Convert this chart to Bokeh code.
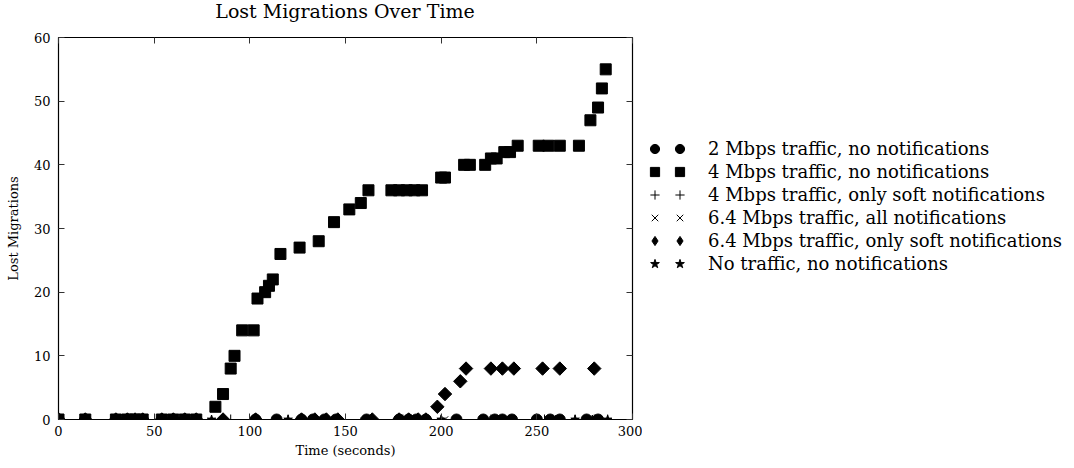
from bokeh.plotting import figure
from bokeh.layouts import row, column
from bokeh.models import Legend, LegendItem, LinearAxis, Range1d, FixedTicker, Div
from bokeh.embed import file_html
from bokeh.resources import INLINE
import numpy as np

FONT = "DejaVu Serif"

# ---- data (time in seconds, lost migrations) ----
title_text = "Lost Migrations Over Time"
labels = [
    "2 Mbps traffic, no notifications",
    "4 Mbps traffic, no notifications",
    "4 Mbps traffic, only soft notifications",
    "6.4 Mbps traffic, all notifications",
    "6.4 Mbps traffic, only soft notifications",
    "No traffic, no notifications",
]

mbps2_none_t = [0, 14, 30, 36, 40, 44, 54, 60, 66, 72, 103, 114, 127, 133, 139, 145,
                161, 178, 183, 187, 192, 208, 222, 228, 232, 237, 250, 257, 262, 276, 282]
mbps2_none_v = [0] * len(mbps2_none_t)

mbps4_none_t = [0, 14, 30, 36, 40, 44, 54, 60, 66, 72,
                82, 86, 90, 92, 96, 102, 104, 108, 110, 112, 116, 126, 136, 144, 152, 158, 162,
                174, 178, 182, 186, 190, 200, 202, 212, 215, 223, 226, 229, 233, 236, 240,
                251, 256, 262, 272, 278, 282, 284, 286]
mbps4_none_v = [0, 0, 0, 0, 0, 0, 0, 0, 0, 0,
                2, 4, 8, 10, 14, 14, 19, 20, 21, 22, 26, 27, 28, 31, 33, 34, 36,
                36, 36, 36, 36, 36, 38, 38, 40, 40, 40, 41, 41, 42, 42, 43,
                43, 43, 43, 43, 47, 49, 52, 55]

mbps4_soft_t = [30, 60, 90, 120, 150, 180, 200, 226, 254, 270, 280, 287]
mbps4_soft_v = [0] * len(mbps4_soft_t)

mbps64_all_t = [202, 227, 256]
mbps64_all_v = [0] * len(mbps64_all_t)

mbps64_soft_t = [0, 14, 30, 36, 40, 44, 54, 60, 66, 72, 86, 103, 127, 134, 140, 146,
                 164, 178, 183, 188, 192,
                 198, 202, 210, 213, 226, 232, 238, 253, 262, 280]
mbps64_soft_v = [0] * 21 + [2, 4, 6, 8, 8, 8, 8, 8, 8, 8]

none_none_t = [0, 40, 80, 120, 160, 200, 230, 260, 270, 279, 287]
none_none_v = [0] * len(none_none_t)

x_ticks = [0, 50, 100, 150, 200, 250, 300]
y_ticks = [0, 10, 20, 30, 40, 50, 60]

series = [
    (mbps2_none_t, mbps2_none_v),
    (mbps4_none_t, mbps4_none_v),
    (mbps4_soft_t, mbps4_soft_v),
    (mbps64_all_t, mbps64_all_v),
    (mbps64_soft_t, mbps64_soft_v),
    (none_none_t, none_none_v),
]

# ---- title (centred over the plot frame) ----
title = Div(text=title_text, width=690, height=22, margin=0,
            styles={"font-family": FONT, "font-size": "19px", "line-height": "22px",
                    "text-align": "center", "color": "black", "width": "690px"})

p = figure(frame_width=574, frame_height=382,
           x_range=Range1d(0, 300), y_range=Range1d(0, 60),
           output_backend="svg", toolbar_location=None,
           min_border_left=58, min_border_top=15, min_border_bottom=10, min_border_right=10)
p.background_fill_color = "white"
p.border_fill_color = "white"
p.outline_line_color = "black"
p.outline_line_width = 1.2
p.grid.visible = False

for ax in (p.xaxis[0], p.yaxis[0]):
    ax.major_label_text_font = FONT
    ax.major_label_text_font_size = "13px"
    ax.major_label_text_color = "black"
    ax.axis_label_text_font = FONT
    ax.axis_label_text_font_size = "13px"
    ax.axis_label_text_font_style = "normal"
    ax.axis_label_text_color = "black"
    ax.major_tick_in = 6
    ax.major_tick_out = 0
    ax.minor_tick_line_color = None
    ax.axis_line_color = None
    ax.major_tick_line_color = "#333333"

p.xaxis[0].ticker = FixedTicker(ticks=x_ticks)
p.yaxis[0].ticker = FixedTicker(ticks=y_ticks)
p.xaxis[0].axis_label = "Time (seconds)"
p.yaxis[0].axis_label = "Lost Migrations"
p.xaxis[0].major_label_standoff = 6
p.yaxis[0].major_label_standoff = 8
p.xaxis[0].axis_label_standoff = 4
p.yaxis[0].axis_label_standoff = 10

top_ax = LinearAxis(ticker=FixedTicker(ticks=x_ticks),
                    major_label_overrides={t: "" for t in x_ticks},
                    major_tick_in=6, major_tick_out=0, minor_tick_line_color=None,
                    axis_line_color=None, major_label_standoff=0,
                    major_tick_line_color="#333333")
right_ax = LinearAxis(ticker=FixedTicker(ticks=y_ticks),
                      major_label_overrides={t: "" for t in y_ticks},
                      major_tick_in=6, major_tick_out=0, minor_tick_line_color=None,
                      axis_line_color=None, major_label_standoff=0,
                      major_tick_line_color="#333333")
p.add_layout(top_ax, "above")
p.add_layout(right_ax, "right")

styles = [
    dict(marker="circle", size=11, fill_color="black", line_color="black"),
    dict(marker="square", size=11, fill_color="black", line_color="black"),
    dict(marker="cross", size=10, line_color="black", line_width=1),
    dict(marker="x", size=9, line_color="black", line_width=1),
    dict(marker="square", angle=np.pi / 4, size=9.5, fill_color="black", line_color="black"),
    dict(marker="star", size=9, fill_color="black", line_color="black"),
]
for (t, v), st in zip(series, styles):
    p.scatter(t, v, **st)

# ---- legend panel (a second, axis-less figure to the right) ----
# its ranges lie outside the data, so the legend proxies draw no marks in it
lg = figure(frame_width=426, frame_height=382, x_range=Range1d(1000, 1001),
            y_range=Range1d(1000, 1001),
            output_backend="svg", toolbar_location=None,
            x_axis_type=None, y_axis_type=None,
            min_border_left=0, min_border_top=15, min_border_bottom=10, min_border_right=0)
lg.outline_line_color = None
lg.grid.visible = False
lg.background_fill_color = "white"
lg.border_fill_color = "white"

leg_styles = [
    dict(marker="circle", fill_color="black", line_color="black"),
    dict(marker="square", fill_color="black", line_color="black"),
    dict(marker="cross", line_color="black", line_width=1),
    dict(marker="x", line_color="black", line_width=1),
    dict(marker="diamond", fill_color="black", line_color="black"),
    dict(marker="star", fill_color="black", line_color="black"),
]
glyphs = [lg.scatter(t, v, **st) for (t, v), st in zip(series, leg_styles)]

common = dict(border_line_alpha=0, background_fill_alpha=0, spacing=0,
              label_height=23, glyph_height=23, glyph_width=23, padding=0, margin=0,
              label_text_font=FONT, label_text_font_size="18px",
              label_text_color="black")

leg1 = Legend(items=[LegendItem(label="", renderers=[g]) for g in glyphs],
              location=(1, 144), label_standoff=0, **common)
leg2 = Legend(items=[LegendItem(label=lab, renderers=[g]) for lab, g in zip(labels, glyphs)],
              location=(26, 144), label_standoff=17, **common)
lg.add_layout(leg1, "center")
lg.add_layout(leg2, "center")

layout = column(title, row(p, lg, spacing=0), spacing=0)
open("out.html", "w").write(file_html(layout, INLINE))
